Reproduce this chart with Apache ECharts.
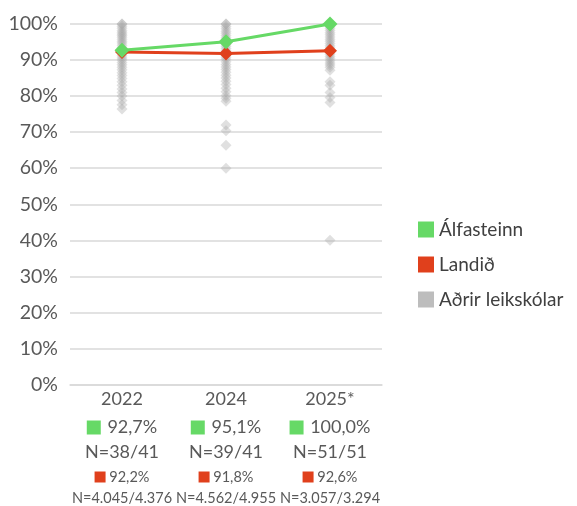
<!DOCTYPE html>
<html>
<head>
<meta charset="utf-8">
<script src="https://cdn.jsdelivr.net/npm/echarts@6/dist/echarts.min.js"></script>
<style>
  html, body { margin: 0; padding: 0; background: #fff; }
  #main { width: 577px; height: 506px; }
</style>
</head>
<body>
<div id="main"></div>
<script>
// chart data
const years = ['2022', '2024', '2025*'];
const alfValues = [92.7, 95.1, 100.0];
const alfN = ['38/41', '39/41', '51/51'];
const landValues = [92.2, 91.8, 92.6];
const landN = ['4.045/4.376', '4.562/4.955', '3.057/3.294'];
const yTicks = [0, 10, 20, 30, 40, 50, 60, 70, 80, 90, 100];

// other kindergartens, one list per year
const others2022 = [100, 100, 99.4, 98.8, 98.2, 97.7, 97.2, 96.8, 96.3, 95.8, 95.2, 94.7, 94.1, 93.5, 93.0,
  92.4, 91.8, 91.2, 90.6, 90.0, 89.3, 88.7, 88.0, 87.3, 86.5, 85.7, 84.9, 84.0, 83.0, 82.0, 81.0, 80.0,
  78.8, 77.6, 76.4];
const others2024 = [100, 100, 99.3, 98.7, 98.0, 97.4, 96.8, 96.2, 95.6, 95.0, 94.4, 93.8, 93.2, 92.6,
  92.0, 91.4, 90.8, 90.2, 89.5, 88.8, 88.1, 87.4, 86.6, 85.8, 85.0, 84.1, 83.2, 82.2, 81.2, 80.2, 79.4,
  78.6, 72.0, 70.4, 66.4, 60.0];
const others2025 = [100, 100, 99.4, 98.8, 98.2, 97.6, 97.0, 96.4, 95.8, 95.2, 94.6, 94.0, 93.4, 92.8,
  92.2, 91.6, 91.0, 90.4, 89.8, 89.2, 88.6, 88.0, 87.2, 84.0, 83.0, 81.0, 79.6, 78.2, 40.0];

const fmt = v => v.toFixed(1).replace('.', ',') + '%';

const otherPoints = [];
[others2022, others2024, others2025].forEach((arr, i) => {
  arr.forEach(v => otherPoints.push([i, v]));
});

const chart = echarts.init(document.getElementById('main'));

const option = {
  animation: false,
  textStyle: { fontFamily: 'Lato' },
  grid: { left: 70, right: 195, top: 24, bottom: 121, containLabel: false },
  legend: {
    orient: 'vertical',
    left: 413,
    top: 215,
    itemWidth: 16,
    itemHeight: 16,
    itemGap: 16,
    itemTextGap: 8,
    icon: 'rect',
    textStyle: { fontSize: 19, color: '#404040', fontFamily: 'Lato' },
    data: [
      { name: 'Álfasteinn', itemStyle: { color: '#66d966' } },
      { name: 'Landið', itemStyle: { color: '#e0401c' } },
      { name: 'Aðrir leikskólar', itemStyle: { color: '#bdbdbd', opacity: 1 } }
    ]
  },
  xAxis: {
    type: 'category',
    data: years,
    boundaryGap: true,
    axisLine: { lineStyle: { color: '#d9d9d9', width: 1.5 } },
    axisTick: { show: false },
    axisLabel: {
      margin: 0,
      interval: 0,
      formatter: (value, idx) =>
        '{y|' + value + '}\n' +
        '{g| }{a| ' + fmt(alfValues[idx]) + '}\n' +
        '{n|N=' + alfN[idx] + '}\n' +
        '{r| }{b| ' + fmt(landValues[idx]) + '}\n' +
        '{c|N=' + landN[idx] + '}',
      rich: {
        y: { fontSize: 18, color: '#595959', lineHeight: 30, fontFamily: 'Lato' },
        g: { backgroundColor: '#66d966', width: 14, height: 14, lineHeight: 26 },
        a: { fontSize: 18, color: '#595959', lineHeight: 26, fontFamily: 'Lato', padding: [0, 0, 0, 2] },
        n: { fontSize: 18, color: '#595959', lineHeight: 24, fontFamily: 'Lato' },
        r: { backgroundColor: '#e0401c', width: 11, height: 11, lineHeight: 25 },
        b: { fontSize: 14.5, color: '#595959', lineHeight: 25, fontFamily: 'Lato' },
        c: { fontSize: 14.5, color: '#595959', lineHeight: 18, fontFamily: 'Lato' }
      }
    }
  },
  yAxis: {
    type: 'value',
    min: yTicks[0],
    max: yTicks[yTicks.length - 1],
    interval: 10,
    axisLine: { show: false },
    axisTick: { show: false },
    splitLine: { lineStyle: { color: '#d9d9d9', width: 1.5 } },
    axisLabel: {
      margin: 12,
      fontSize: 19.5,
      color: '#595959',
      fontFamily: 'Lato',
      formatter: v => v + '%'
    }
  },
  series: [
    {
      name: 'Aðrir leikskólar',
      type: 'scatter',
      data: otherPoints,
      symbol: 'diamond',
      symbolSize: 11,
      itemStyle: { color: '#a6a6a6', opacity: 0.35 },
      z: 1
    },
    {
      name: 'Landið',
      type: 'line',
      data: landValues,
      symbol: 'diamond',
      symbolSize: 14,
      lineStyle: { color: '#e0401c', width: 3 },
      itemStyle: { color: '#e0401c' },
      z: 3
    },
    {
      name: 'Álfasteinn',
      type: 'line',
      data: alfValues,
      symbol: 'diamond',
      symbolSize: 15,
      lineStyle: { color: '#66d966', width: 3 },
      itemStyle: { color: '#66d966' },
      z: 4
    }
  ]
};

option && chart.setOption(option);
</script>
</body>
</html>
